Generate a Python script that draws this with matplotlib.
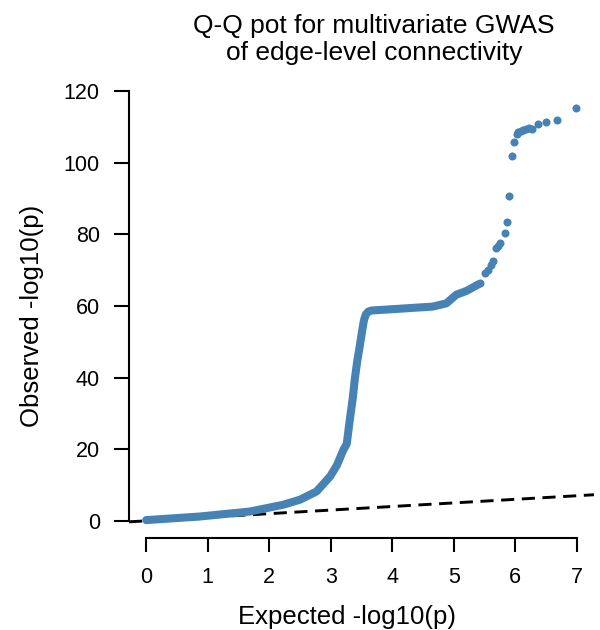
import numpy as np
import matplotlib.pyplot as plt

plt.rcParams["font.family"] = ["Liberation Sans", "DejaVu Sans"]

# dense part of the Q-Q curve (expected, observed -log10 p)
curve_exp = [0.0, 0.87, 1.69, 2.23, 2.5, 2.77, 2.99, 3.10, 3.20, 3.26, 3.31,
             3.36, 3.39, 3.43, 3.47, 3.51, 3.54, 3.57, 3.61, 3.66, 4.12,
             4.66, 4.88, 5.04, 5.21, 5.40]
curve_obs = [0.2, 1.2, 2.6, 4.5, 5.9, 8.2, 12.4, 15.5, 19.6, 21.5, 28.2,
             34.5, 39.4, 44.5, 48.6, 53.0, 56.0, 57.6, 58.4, 58.7, 59.2,
             59.8, 60.7, 63.1, 64.2, 66.0]

# sparse top hits
top_exp = [5.42, 5.50, 5.55, 5.60, 5.64, 5.69, 5.72, 5.75, 5.83, 5.87, 5.90,
           5.95, 5.98, 6.02, 6.05, 6.09, 6.13, 6.18, 6.23, 6.28, 6.37, 6.50,
           6.68, 6.99]
top_obs = [66.3, 69.1, 70.0, 71.5, 72.4, 76.1, 76.8, 77.5, 80.3, 83.3, 90.8,
           101.9, 105.7, 108.0, 108.5, 108.8, 109.1, 109.4, 109.6, 109.3,
           110.8, 111.2, 111.9, 115.3]

xticks = [0, 1, 2, 3, 4, 5, 6, 7]
yticks = [0, 20, 40, 60, 80, 100, 120]

col = "#4682B4"

fig = plt.figure(figsize=(6, 6.3), dpi=100)
ax = fig.add_axes([0.215, 0.146, 0.775, 0.737])

ax.axline((0, 0), slope=1, color="black", lw=2.1, ls=(0, (4.5, 2.6)), zorder=1)
ax.plot(curve_exp, curve_obs, color=col, lw=5.8, solid_capstyle="round",
        solid_joinstyle="round", zorder=2)
ax.plot(top_exp, top_obs, "o", color=col, ms=5.8, mew=0, zorder=3)

ax.set_xlim(-0.28, 7.28)
ax.set_ylim(-4.8, 124.8)
ax.set_xticks(xticks)
ax.set_yticks(yticks)

for s in ["top", "right"]:
    ax.spines[s].set_visible(False)
ax.spines["left"].set_bounds(0, 120)
ax.spines["bottom"].set_bounds(0, 7)
for s in ["left", "bottom"]:
    ax.spines[s].set_linewidth(1.5)

ax.tick_params(axis="y", length=11, width=1.5, pad=10, labelsize=15.5)
ax.tick_params(axis="x", length=10, width=1.5, pad=11, labelsize=15.5)

ax.set_xlabel("Expected -log10(p)", fontsize=18.5, labelpad=12)
ax.xaxis.label.set_x(0.469)
ax.set_ylabel("Observed -log10(p)", fontsize=18.5, labelpad=14)
ax.yaxis.label.set_y(0.478)
ax.set_title("Q-Q pot for multivariate GWAS\nof edge-level connectivity",
             fontsize=19, pad=10, linespacing=1.15, x=0.527)

fig.savefig("out.png", dpi=100)
